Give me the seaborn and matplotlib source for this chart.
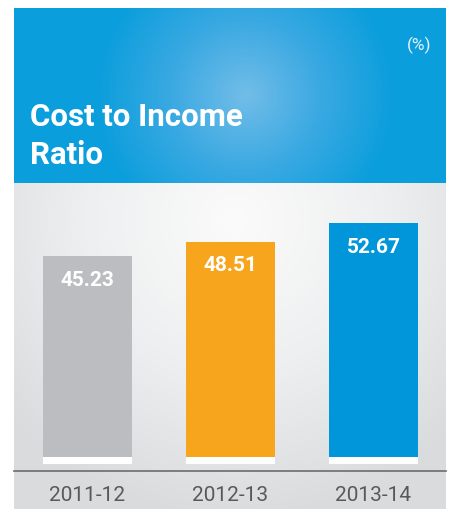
import numpy as np
import pandas as pd
import matplotlib
matplotlib.use("Agg")
import matplotlib.pyplot as plt
import seaborn as sns
from matplotlib.colors import LinearSegmentedColormap

# ---- data ----
years = ["2011-12", "2012-13", "2013-14"]
ratios = [45.23, 48.51, 52.67]
bar_colors = ["#bcbdc0", "#f7a51d", "#0096d9"]
title = "Cost to Income\nRatio"
unit = "(%)"

sns.set_theme(style="white")
plt.rcParams["font.family"] = ["Roboto", "DejaVu Sans"]

W, H = 451, 509
fig = plt.figure(figsize=(W / 100, H / 100), dpi=100)
fig.patch.set_facecolor("white")

def px(x0, y0, x1, y1):
    return [x0 / W, 1 - y1 / H, (x1 - x0) / W, (y1 - y0) / H]

# ---- header with radial gradient ----
hx0, hy0, hx1, hy1 = 14, 8, 446, 183
hax = fig.add_axes(px(hx0, hy0, hx1, hy1))
xx, yy = np.meshgrid(np.arange(hx0, hx1), np.arange(hy0, hy1))
r = np.sqrt((xx - 245) ** 2 + (yy - 95) ** 2) / 150.0
r = np.clip(r, 0, 1)
hcmap = LinearSegmentedColormap.from_list("h", ["#72bde8", "#3aa9e2", "#0a9edc"])
hax.imshow(r, cmap=hcmap, aspect="auto", extent=(0, 1, 0, 1), vmin=0, vmax=1)
hax.set_axis_off()
hax.text((30 - hx0) / (hx1 - hx0), 1 - (164 - hy0) / (hy1 - hy0), title,
         transform=hax.transAxes, color="white", fontsize=22.5, fontweight="bold",
         ha="left", va="baseline", linespacing=1.33)
hax.text((431 - hx0) / (hx1 - hx0), 1 - (45 - hy0) / (hy1 - hy0), unit,
         transform=hax.transAxes, color="#e3f2fb", fontsize=12.5, fontweight="normal",
         ha="right", va="center")

# ---- panel gradient background ----
px0, py0, px1, py1 = 14, 183, 446, 509
bax = fig.add_axes(px(px0, py0, px1, py1))
xx, yy = np.meshgrid(np.arange(px0, px1), np.arange(py0, py1))
r2 = np.sqrt(((xx - 235) / 1.0) ** 2 + ((yy - 220) / 1.0) ** 2) / 300.0
r2 = np.clip(r2, 0, 1)
pcmap = LinearSegmentedColormap.from_list("p", ["#fbfbfb", "#eeeff0", "#dadbdd"])
bax.imshow(r2, cmap=pcmap, aspect="auto", extent=(0, 1, 0, 1), vmin=0, vmax=1)
bax.set_axis_off()

# ---- bars ----
ax = fig.add_axes(px(14, 183, 446, 471))
ax.patch.set_alpha(0)
df = pd.DataFrame({"year": years, "ratio": ratios})
sns.barplot(data=df, x="year", y="ratio", hue="year", palette=bar_colors,
            width=0.622, legend=False, ax=ax, saturation=1)
ax.set_ylim(-3.16, 61.8)
ax.set_xlim(-0.514, 2.507)
for p, v in zip(ax.patches, ratios):
    p.set_edgecolor("none")
    # white strip under each bar
    ax.add_patch(plt.Rectangle((p.get_x(), -1.5), p.get_width(), 1.5,
                               facecolor="white", edgecolor="none", zorder=3))
    ax.text(p.get_x() + p.get_width() / 2, v - 5.4, f"{v:.2f}",
            color="white", fontsize=15, fontweight="bold", ha="center", va="center", zorder=4)

ax.set_xlabel("")
ax.set_ylabel("")
ax.set_yticks([])
for s in ["top", "right", "left"]:
    ax.spines[s].set_visible(False)
ax.spines["bottom"].set_color("#6b6c6e")
ax.spines["bottom"].set_linewidth(1.2)
ax.tick_params(axis="x", length=0, pad=11, labelsize=15, labelcolor="#58595b")

fig.savefig("out.png", dpi=100)
